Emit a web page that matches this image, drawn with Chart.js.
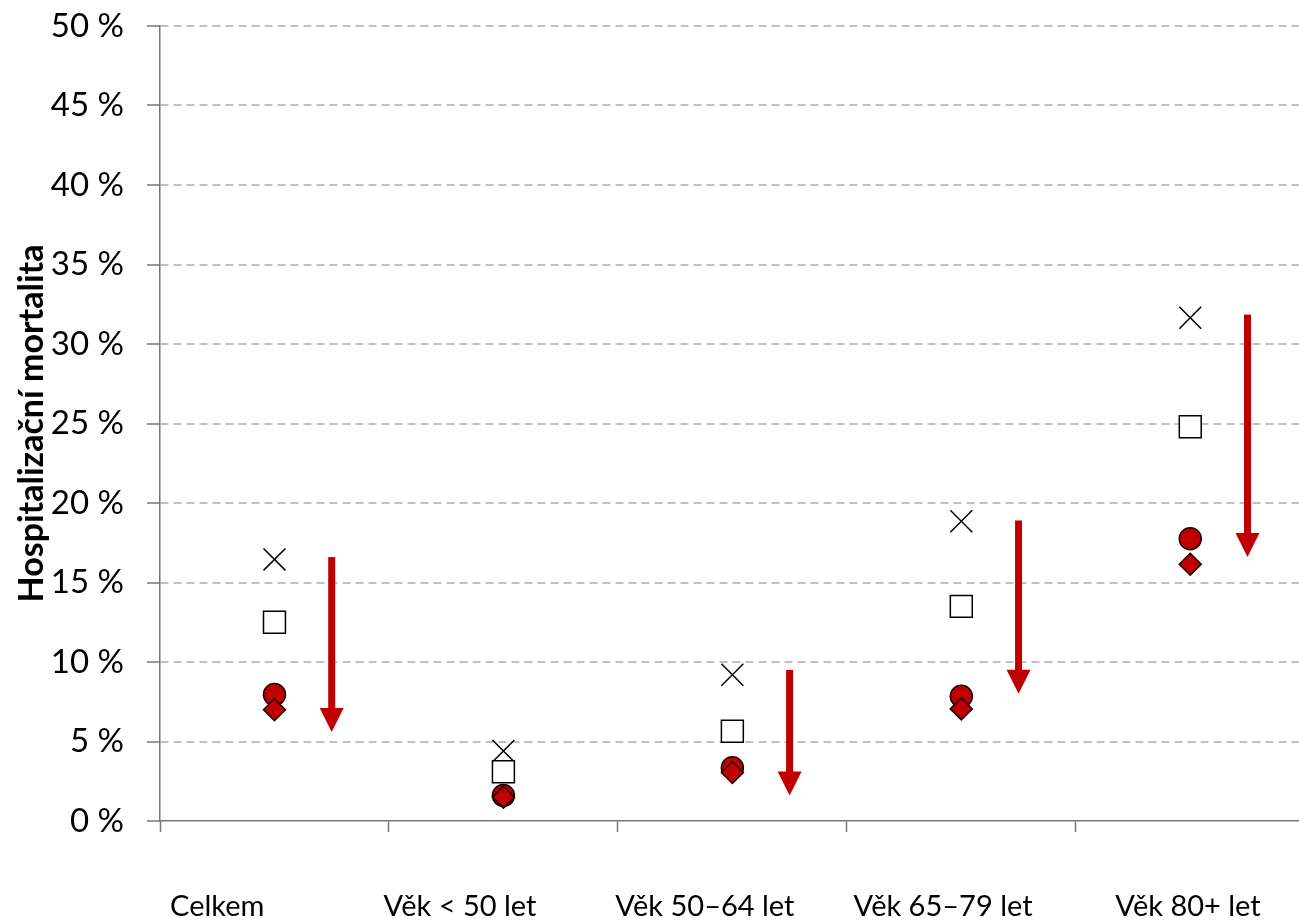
<!DOCTYPE html>
<html>
<head>
<meta charset="utf-8">
<script src="https://cdn.jsdelivr.net/npm/chart.js@4/dist/chart.umd.min.js"></script>
<style>
  html, body { margin: 0; padding: 0; background: #fff; overflow: hidden; }
  #wrap { width: 1299px; height: 920px; position: relative; }
</style>
</head>
<body>
<div id="wrap"><canvas id="mortChart"></canvas></div>
<script>
// data (hospitalizační mortalita, %)
const categories = ["Celkem", "Věk < 50 let", "Věk 50–64 let", "Věk 65–79 let", "Věk 80+ let"];
const crossVals   = [16.45, 4.4, 9.2, 18.85, 31.65];
const squareVals  = [12.5, 3.1, 5.65, 13.5, 24.8];
const circleVals  = [7.95, 1.6, 3.35, 7.85, 17.75];
const diamondVals = [7.0, 1.5, 3.05, 7.05, 16.15];
// arrows: start -> end (null = no arrow)
const arrowFrom = [16.6, null, 9.5, 18.9, 31.85];
const arrowTo   = [5.6, null, 1.6, 8.0, 16.6];
const yTicks = [0, 5, 10, 15, 20, 25, 30, 35, 40, 45, 50];

const RED = "#C00000";
const FONT = "Lato";
const arrowShift = 0.25;                       // arrow x offset from category centre
const labelPos = [0.25, 1.31, 2.38, 3.42, 4.49]; // where category labels sit (category units)

const pts = vals => vals.map((v, i) => ({ x: i + 0.5, y: v }));

const arrowPlugin = {
    id: "arrows",
    afterDatasetsDraw(chart) {
        const { ctx, scales: { x, y } } = chart;
        ctx.save();
        ctx.fillStyle = RED;
        arrowFrom.forEach((from, i) => {
            if (from == null) return;
            const px = x.getPixelForValue(i + 0.5 + arrowShift);
            const y1 = y.getPixelForValue(from);
            const y2 = y.getPixelForValue(arrowTo[i]);
            const head = 24, half = 12, shaft = 3.5;
            ctx.fillRect(px - shaft, y1, shaft * 2, y2 - y1 - head + 1);
            ctx.beginPath();
            ctx.moveTo(px - half, y2 - head);
            ctx.lineTo(px + half, y2 - head);
            ctx.lineTo(px, y2);
            ctx.closePath();
            ctx.fill();
        });
        ctx.restore();
    }
};

const labelPlugin = {
    id: "catLabels",
    afterDraw(chart) {
        const { ctx, scales: { x, y } } = chart;
        ctx.save();
        ctx.font = "29px " + FONT;
        ctx.fillStyle = "#000";
        ctx.textAlign = "center";
        ctx.textBaseline = "middle";
        categories.forEach((c, i) => {
            ctx.fillText(c, x.getPixelForValue(labelPos[i]), y.bottom + 86);
        });
        ctx.restore();
    }
};

function noPad(s) {
    s.paddingTop = 0; s.paddingRight = 0; s.paddingBottom = 0; s.paddingLeft = 0;
}

new Chart(document.getElementById("mortChart"), {
    type: "scatter",
    data: {
        datasets: [
            { label: "x", data: pts(crossVals), pointStyle: "crossRot", pointRadius: 15.5,
              borderColor: "#000", borderWidth: 1.5, backgroundColor: "#000", order: 4 },
            { label: "sq", data: pts(squareVals), pointStyle: "rect", pointRadius: 15.5,
              borderColor: "#000", borderWidth: 1.5, backgroundColor: "#fff", order: 3 },
            { label: "circle", data: pts(circleVals), pointStyle: "circle", pointRadius: 11,
              borderColor: "#1a0000", borderWidth: 1.5, backgroundColor: RED, order: 2 },
            { label: "diamond", data: pts(diamondVals), pointStyle: "rectRot", pointRadius: 11,
              borderColor: "#1a0000", borderWidth: 1.5, backgroundColor: RED, order: 1 }
        ]
    },
    options: {
        responsive: true,
        maintainAspectRatio: false,
        animation: false,
        layout: { autoPadding: false, padding: { top: 26, right: 0, bottom: 88, left: 0 } },
        plugins: { legend: { display: false }, tooltip: { enabled: false } },
        elements: { point: { hoverRadius: 0 } },
        scales: {
            x: {
                type: "linear", min: 0, max: 4.975,
                afterFit: noPad,
                afterBuildTicks: s => { s.ticks = [0, 1, 2, 3, 4].map(v => ({ value: v })); },
                ticks: { display: false },
                grid: { drawOnChartArea: false, drawTicks: true, tickLength: 11, tickColor: "#777", tickWidth: 1.5 },
                border: { color: "#777", width: 1.5 }
            },
            y: {
                min: 0, max: 50,
                afterBuildTicks: s => { s.ticks = yTicks.map(v => ({ value: v })); },
                afterFit: s => { s.width = 160; noPad(s); },
                ticks: {
                    padding: 23, color: "#000",
                    font: { family: FONT, size: 33 },
                    callback: v => v + " %"
                },
                grid: {
                    color: ctx => ctx.tick && ctx.tick.value === 0 ? "rgba(0,0,0,0)" : "#c0c0c0",
                    lineWidth: 2, tickLength: 13, tickColor: "#777", tickWidth: 1.5
                },
                border: { color: "#777", width: 1.5, dash: [8, 5] },
                title: {
                    display: true, text: "Hospitalizační mortalita", color: "#000",
                    font: { family: FONT, size: 34, weight: "bold" },
                    padding: { top: 12, bottom: 0 }
                }
            }
        }
    },
    plugins: [arrowPlugin, labelPlugin]
});
</script>
</body>
</html>
